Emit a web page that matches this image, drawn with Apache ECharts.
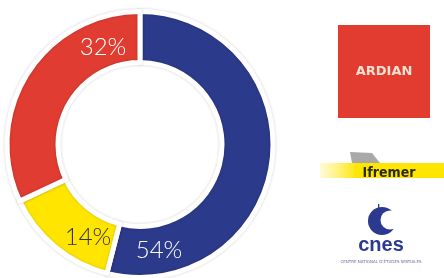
<!DOCTYPE html>
<html>
<head>
<meta charset="utf-8">
<script src="https://cdn.jsdelivr.net/npm/echarts@6/dist/echarts.min.js"></script>
<style>
  html, body { margin: 0; padding: 0; background: #fff; }
  #chart { width: 444px; height: 278px; }
</style>
</head>
<body>
<div id="chart"></div>
<script>
// parts du financement
var names = ['Ardian', 'Ifremer', 'Cnes']
var values = [54, 14, 32]
var colors = ['#2b3a8a', '#ffe500', '#e03c31']
var labelColors = ['#ffffff', '#333333', '#ffffff']
// où poser chaque pourcentage
var labelSpots = [[159, 250], [88, 237], [103, 47]]

var chart = echarts.init(document.getElementById('chart'))

var option = {
  animation: false,
  series: [{
    type: 'pie',
    center: [140, 144.5],
    radius: [82, 133],
    startAngle: 90,
    clockwise: true,
    data: names.map(function (n, i) {
      return {
        name: n,
        value: values[i],
        itemStyle: { color: colors[i] },
        label: { color: labelColors[i] }
      }
    }),
    itemStyle: {
      borderColor: '#fff',
      borderWidth: 5,
      shadowBlur: 3,
      shadowColor: 'rgba(0,0,0,0.18)'
    },
    label: {
      show: true,
      position: 'inside',
      formatter: '{c}%',
      fontFamily: 'Lato',
      fontWeight: 300,
      fontSize: 24
    },
    labelLayout: function (p) {
      var s = labelSpots[p.dataIndex]
      return { x: s[0], y: s[1], align: 'center', verticalAlign: 'middle' }
    },
    labelLine: { show: false },
    emphasis: { disabled: true }
  }],
  graphic: [
    // ARDIAN
    { type: 'rect', shape: { x: 338, y: 25, width: 92, height: 93 }, style: { fill: '#e23b2f' } },
    { type: 'text', x: 384, y: 72, style: { text: 'ARDIAN', fill: '#f3e2d2', font: 'bold 13px "DejaVu Sans"', letterSpacing: 1.5, align: 'center', verticalAlign: 'middle' } },
    // Ifremer
    { type: 'rect', shape: { x: 320, y: 163, width: 124, height: 15 },
      style: { fill: new echarts.graphic.LinearGradient(0, 0, 1, 0, [{ offset: 0, color: 'rgba(255,236,60,0.2)' }, { offset: 0.3, color: '#ffe600' }, { offset: 1, color: '#ffe600' }]) } },
    { type: 'polygon', shape: { points: [[350, 152], [372, 153], [380, 163], [352, 163]] }, style: { fill: '#a9a9a9' } },
    { type: 'text', x: 389, y: 173, style: { text: 'Ifremer', fill: '#2a2a1a', font: 'bold 14px "DejaVu Sans Condensed"', align: 'center', verticalAlign: 'middle' } },
    // cnes
    { type: 'circle', shape: { cx: 382, cy: 221, r: 14 }, style: { fill: '#2b3a8f' } },
    { type: 'circle', shape: { cx: 390, cy: 220, r: 9.5 }, style: { fill: '#fff' } },
    { type: 'rect', shape: { x: 378, y: 204, width: 1.3, height: 8 }, style: { fill: '#2b3a8f' } },
    { type: 'text', x: 381, y: 245, style: { text: 'cnes', fill: '#2b3a8f', font: 'bold 20px "Liberation Sans"', align: 'center', verticalAlign: 'middle' } },
    { type: 'text', x: 381, y: 262, style: { text: 'CENTRE NATIONAL D\'ÉTUDES SPATIALES', fill: '#6a6f9a', font: '4px "DejaVu Sans"', align: 'center', verticalAlign: 'middle' } }
  ]
}

chart.setOption(option)
</script>
</body>
</html>
